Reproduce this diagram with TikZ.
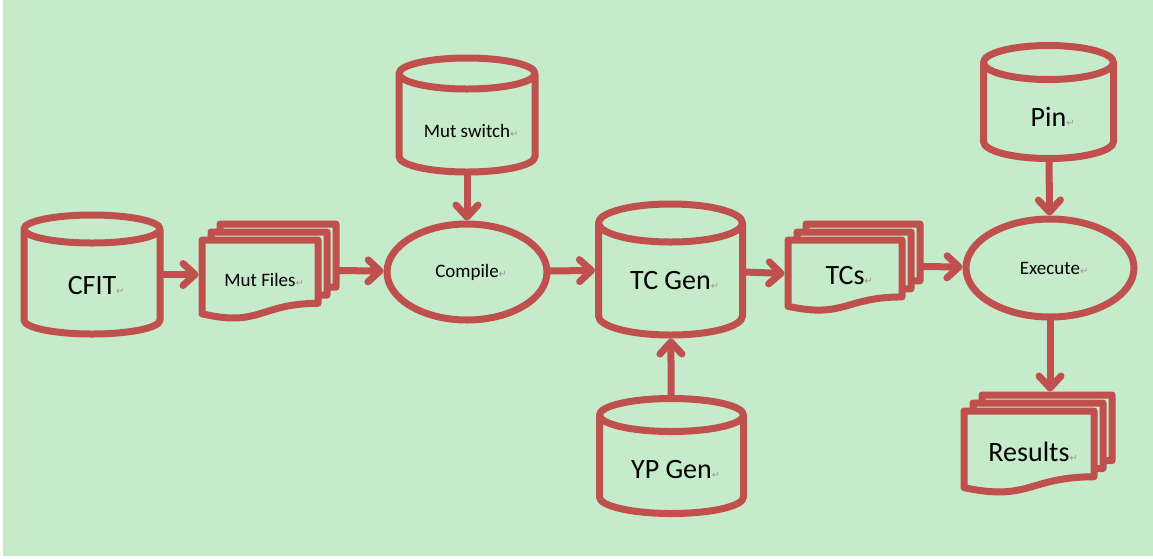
\documentclass[tikz,border=0pt]{standalone}
\usepackage{xcolor}
\usepackage{fontspec}
\setmainfont{Carlito}
\newfontfamily\markfont{DejaVu Sans}
\usepackage{tikz}
\usetikzlibrary{calc}
\usetikzlibrary{arrows.meta}
\usetikzlibrary{shapes.geometric}
\definecolor{brick}{HTML}{C0504D}
\definecolor{paper}{HTML}{C6EBCA}
\newcommand\ret{\rlap{\markfont\fontsize{10}{10}\selectfont\textcolor{gray!80}{↵}}}
\tikzset{>={Straight Barb[length=12pt, width=22pt, line cap=round, line join=round]}}
\tikzstyle{rim} = [draw=brick, line width=7pt, line join=round, line cap=round]
\tikzstyle{box} = [rectangle, draw=none, inner sep=0, outer sep=0]
\tikzstyle{oval} = [ellipse, draw=brick, line width=7pt, inner sep=0, outer sep=0]
\tikzstyle{flow} = [->, draw=brick, line width=7pt, shorten >=3.5pt]
\tikzstyle{bigtext} = [font=\fontsize{28}{30}\selectfont, text depth=0pt]
\tikzstyle{smalltext} = [font=\fontsize{19}{21}\selectfont]
% cylinder outline round a box node: #1 node, #2 half height of the lid
\newcommand\drum[2]{%
  \draw[rim] let \p1=(#1.north west), \p2=(#1.south east), \n1={(\x2-\x1)/2} in
    (\x1,\y1-#2) -- (\x1,\y2+#2) arc[start angle=180, end angle=360, x radius=\n1, y radius=#2] -- (\x2,\y1-#2)
    (\x1,\y1-#2) arc[start angle=180, end angle=540, x radius=\n1, y radius=#2];
}
% stack of three sheets, the front one filling box node #1
\newcommand\docs[1]{%
  \draw[rim] let \p1=(#1.north west), \p2=(#1.south east), \n1={\y1-\y2} in
    (\x1+18pt,\y1+8pt) -- (\x1+18pt,\y1+16pt) -- (\x2+18pt,\y1+16pt) -- (\x2+18pt,\y1+16pt-0.8*\n1) -- (\x2+9pt,\y1+16pt-0.8*\n1)
    (\x1+9pt,\y1) -- (\x1+9pt,\y1+8pt) -- (\x2+9pt,\y1+8pt) -- (\x2+9pt,\y1+8pt-0.8*\n1) -- (\x2,\y1+8pt-0.8*\n1)
    (\x1,\y1) -- (\x2,\y1) -- (\x2,\y1-0.802*\n1)
      .. controls ({(\x1+\x2)/2},\y1-0.802*\n1) and ({(\x1+\x2)/2},\y1-1.107*\n1) .. (\x1,\y1-0.934*\n1) -- cycle;
}

\begin{document}
\begin{tikzpicture}[x=1pt, y=-1pt]
\useasboundingbox (0,0) rectangle (1153,558);
\fill[white] (0,0) rectangle (1153,558);
\fill[paper] (3,0) rectangle (1153,556);

% stores
\node [box, bigtext, minimum width=136, minimum height=119, text height=39pt] (cfit) at (92,274.5) {CFIT\ret};
\node [box, smalltext, minimum width=136, minimum height=114, text height=44pt, text depth=0pt] (mutsw) at (467,115) {Mut switch\ret};
\node [box, bigtext, minimum width=144, minimum height=131, text height=39pt] (tcgen) at (670.5,269.5) {TC Gen\ret};
\node [box, bigtext, minimum width=144, minimum height=115, text height=44pt] (ypgen) at (671.5,456) {YP Gen\ret};
\node [box, bigtext, minimum width=130, minimum height=113, text height=49pt] (pin) at (1048.5,102) {Pin\ret};
\drum{cfit}{14pt}
\drum{mutsw}{15.5pt}
\drum{tcgen}{19pt}
\drum{ypgen}{16.5pt}
\drum{pin}{17pt}

% sheets
\node [box, smalltext, minimum width=116, minimum height=79] (mutfiles) at (260,279.5) {Mut Files\ret};
\node [box, bigtext, minimum width=114, minimum height=71] (tcs) at (845,275.5) {TCs\ret};
\node [box, bigtext, minimum width=130, minimum height=82] (results) at (1029,452) {Results\ret};
\docs{mutfiles}
\docs{tcs}
\docs{results}

% steps
\node [oval, smalltext, minimum width=160, minimum height=96] (compile) at (467,272) {Compile\ret};
\node [oval, smalltext, minimum width=168, minimum height=98] (execute) at (1050,268) {Execute\ret};

\draw [flow] (cfit.east) -- (cfit.east -| mutfiles.west);
\draw [flow] ([xshift=18pt, yshift=9pt]mutfiles.east) -- (compile);
\draw [flow] (mutsw) -- (compile);
\draw [flow] (compile) -- (tcgen);
\draw [flow] (ypgen) -- (tcgen);
\draw [flow] (tcgen) -- (tcs);
\draw [flow] ([xshift=18pt, yshift=9pt]tcs.east) -- (execute);
\draw [flow] (pin) -- (execute);
\draw [flow, shorten >=19.5pt] (execute) -- (execute |- results.north);
\end{tikzpicture}
\end{document}
